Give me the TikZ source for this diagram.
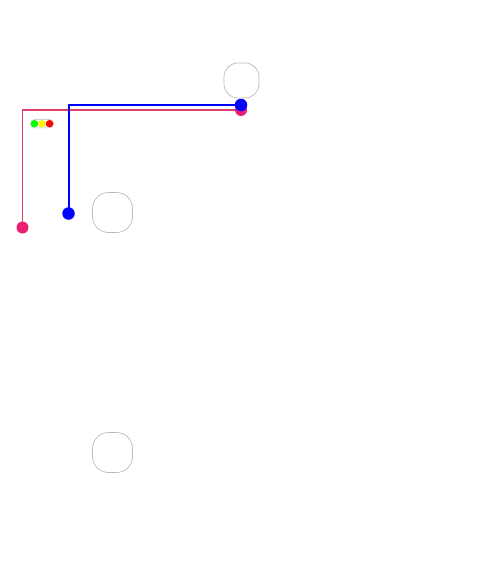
\documentclass[tikz,border=0pt]{standalone}
\definecolor{pinkline}{HTML}{E2406C}
\definecolor{pinkdot}{HTML}{E91E73}
\definecolor{boxgray}{HTML}{BBBBBB}
\begin{document}
\begin{tikzpicture}[x=1pt,y=-1pt,
  roundbox/.style 2 args={draw=boxgray,line width=0.7pt,rounded corners=#2,minimum width=#1,minimum height=#1,inner sep=0pt,outer sep=0pt},
  pinkwire/.style={draw=pinkline,line width=1.8pt},
  bluewire/.style={draw=blue,line width=2pt},
  pinkend/.style={circle,fill=pinkdot,minimum size=12pt,inner sep=0pt},
  blueend/.style={circle,fill=blue,minimum size=12.5pt,inner sep=0pt},
  lamp/.style={circle,fill=#1,minimum size=7.5pt,inner sep=0pt},
  pill/.style={draw=boxgray,line width=0.5pt,rounded corners=4pt,fill=white,minimum width=23pt,minimum height=8.5pt,inner sep=0pt}]
\useasboundingbox (0,0) rectangle (502,584);
\node[roundbox={35pt}{14pt}] (top) at (241.5,80.5) {};
\node[roundbox={40pt}{16pt}] (mid) at (112.5,212.5) {};
\node[roundbox={40pt}{16pt}] (bot) at (112.5,452.5) {};
% pink wire
\coordinate (pa) at (22.5,227.5);
\coordinate (pb) at (241,110);
\draw[pinkwire] (pa) |- (pb);
\node[pinkend] (pdot1) at (pa) {};
\node[pinkend] (pdot2) at (pb) {};
% blue wire
\coordinate (ba) at (68.5,213.5);
\coordinate (bb) at (241,105);
\draw[bluewire] (ba) |- (bb);
\node[blueend] (bdot1) at (ba) {};
\node[blueend] (bdot2) at (bb) {};
% traffic light
\node[pill] (light) at (42,123.7) {};
\node[lamp=green] (g) at (34.5,123.7) {};
\node[lamp=yellow] (y) at (42,123.7) {};
\node[lamp=red] (r) at (49.5,123.7) {};
\end{tikzpicture}
\end{document}
